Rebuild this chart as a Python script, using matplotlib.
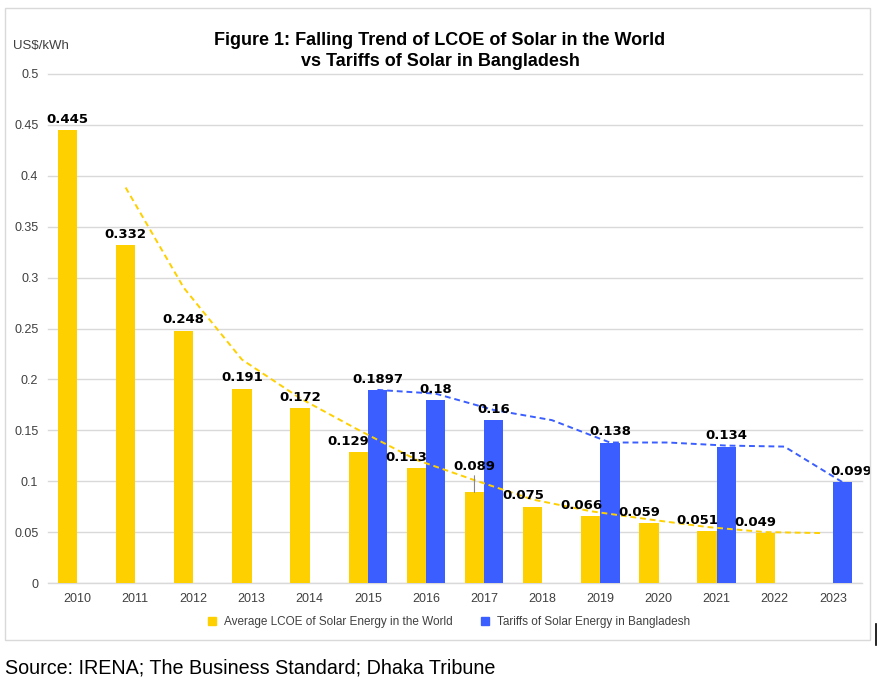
import matplotlib

matplotlib.use("Agg")
import matplotlib.pyplot as plt
import numpy as np
from matplotlib.patches import Rectangle
from matplotlib.lines import Line2D

years = ["2010", "2011", "2012", "2013", "2014", "2015", "2016",
         "2017", "2018", "2019", "2020", "2021", "2022", "2023"]
lcoe_world = [0.445, 0.332, 0.248, 0.191, 0.172, 0.129, 0.113,
              0.089, 0.075, 0.066, 0.059, 0.051, 0.049, None]
tariff_bd = [None, None, None, None, None, 0.1897, 0.18,
             0.16, None, 0.138, None, 0.134, None, 0.099]
lcoe_labels = ["0.445", "0.332", "0.248", "0.191", "0.172", "0.129", "0.113",
               "0.089", "0.075", "0.066", "0.059", "0.051", "0.049", ""]
tariff_labels = ["", "", "", "", "", "0.1897", "0.18",
                 "0.16", "", "0.138", "", "0.134", "", "0.099"]
# moving average trendlines as drawn in the source
lcoe_trend = [None, 0.3885, 0.29, 0.2195, 0.1815, 0.1505, 0.121,
              0.101, 0.082, 0.0705, 0.0625, 0.055, 0.050, 0.049]
tariff_trend = [None, None, None, None, None, 0.1897, 0.186,
                0.170, 0.160, 0.138, 0.138, 0.135, 0.134, 0.099]

yellow = "#FFD000"
blue = "#3A5EFF"
sans = ["Liberation Sans", "DejaVu Sans"]

W, H = 885, 681
fig = plt.figure(figsize=(W / 100, H / 100), dpi=100)
ax = fig.add_axes([48 / W, 1 - 583 / H, 814 / W, 509 / H])

x = np.arange(len(years))
w = 0.33


def to_arr(vals):
    return np.array([np.nan if v is None else v for v in vals], dtype=float)


lc = to_arr(lcoe_world)
tb = to_arr(tariff_bd)
ax.bar(x - w / 2, np.nan_to_num(lc), w, color=yellow, zorder=2)
ax.bar(x + w / 2, np.nan_to_num(tb), w, color=blue, zorder=2)

lt = to_arr(lcoe_trend)
tt = to_arr(tariff_trend)
ax.plot(x - w / 2, lt, color=yellow, ls=(0, (3, 2)), lw=1.4, zorder=3)
ax.plot(x + w / 2, tt, color=blue, ls=(0, (3, 2)), lw=1.4, zorder=3)

lab_font = dict(fontsize=9.5, fontweight="bold", color="black", family="DejaVu Sans")
for i, (v, s) in enumerate(zip(lc, lcoe_labels)):
    if not s:
        continue
    dx = -7 if i >= 5 else 0
    if s == "0.089":
        ax.annotate(s, (i - w / 2, v), xytext=(0, 14), textcoords="offset points",
                    ha="center", va="bottom", zorder=4,
                    arrowprops=dict(arrowstyle="-", color="#888888", lw=0.8,
                                    shrinkA=0, shrinkB=0), **lab_font)
    else:
        ax.annotate(s, (i - w / 2, v), xytext=(dx, 3), textcoords="offset points",
                    ha="center", va="bottom", zorder=4, **lab_font)
for i, (v, s) in enumerate(zip(tb, tariff_labels)):
    if not s:
        continue
    dx = 6 if s == "0.099" else 0
    ax.annotate(s, (i + w / 2, v), xytext=(dx, 3), textcoords="offset points",
                ha="center", va="bottom", zorder=4, **lab_font)

ax.set_xlim(-0.5, len(years) - 0.5)
ax.set_ylim(0, 0.5)
ax.set_yticks(np.arange(0, 0.51, 0.05))
ax.set_yticklabels(["0", "0.05", "0.1", "0.15", "0.2", "0.25", "0.3",
                    "0.35", "0.4", "0.45", "0.5"])
ax.set_xticks(x)
ax.set_xticklabels(years)
for lbl in ax.get_xticklabels() + ax.get_yticklabels():
    lbl.set_family(sans)
    lbl.set_fontsize(9)
    lbl.set_color("#404040")
ax.tick_params(axis="x", length=0, pad=7)
ax.tick_params(axis="y", length=0, pad=7)
ax.grid(axis="y", color="#D9D9D9", lw=1, zorder=0, clip_on=False)
for sp in ax.spines.values():
    sp.set_visible(False)
ax.axhline(0, color="#D9D9D9", lw=1, zorder=1)

fig.text(13 / W, 1 - 46 / H, "US$/kWh", family=sans, fontsize=9.5,
         color="#404040", va="center")
fig.text(440 / W, 1 - 51 / H,
         "Figure 1: Falling Trend of LCOE of Solar in the World\nvs Tariffs of Solar in Bangladesh",
         family=sans, fontsize=13, fontweight="bold", ha="center", va="center",
         linespacing=1.3)

handles = [Line2D([], [], marker="s", ls="", color=yellow, markersize=5.5),
           Line2D([], [], marker="s", ls="", color=blue, markersize=5.5)]
fig.legend(handles, ["Average LCOE of Solar Energy in the World",
                     "Tariffs of Solar Energy in Bangladesh"],
           loc="center", bbox_to_anchor=(445 / W, 1 - 622 / H), ncol=2, frameon=False,
           prop=dict(family=sans, size=8.5), handletextpad=0.0, columnspacing=1.8,
           labelcolor="#404040")

fig.add_artist(Rectangle((5 / W, 1 - 640 / H), 865 / W, 632 / H, transform=fig.transFigure,
                         fill=False, edgecolor="#D9D9D9", lw=1))
fig.add_artist(Line2D([876 / W, 876 / W], [1 - 624 / H, 1 - 645 / H],
                      transform=fig.transFigure, color="black", lw=1.2))

fig.text(5 / W, 1 - 668 / H, "Source: IRENA; The Business Standard; Dhaka Tribune",
         family=sans, fontsize=14.2, color="black", va="center")

fig.savefig("out.png", dpi=100)
